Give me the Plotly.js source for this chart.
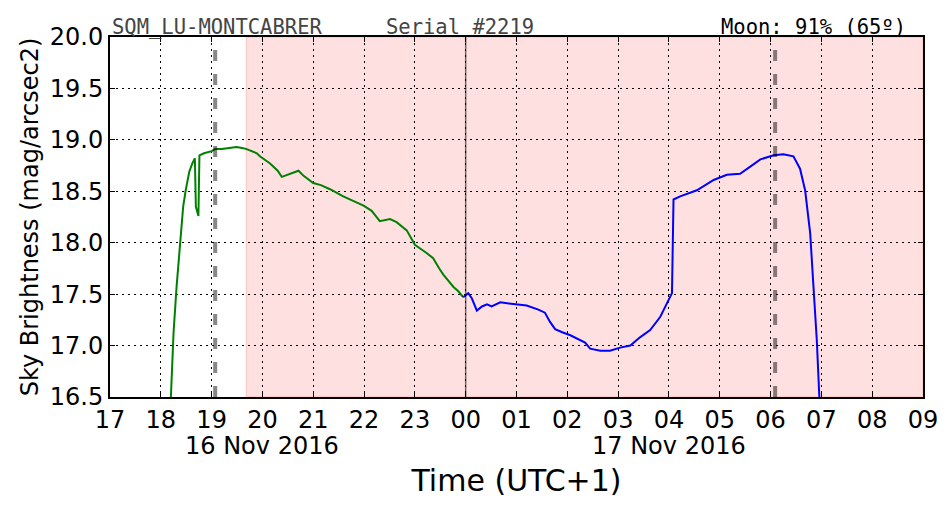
<!DOCTYPE html>
<html><head><meta charset="utf-8">
<script src="https://cdn.plot.ly/plotly-3.0.1.min.js"></script>
<style>body{margin:0;background:#fff}#c{width:952px;height:512px}</style>
</head><body><div id="c"></div>
<script>
// hours since 16 Nov 2016 00:00 (UTC+1)
var tickVals = [17,18,19,20,21,22,23,24,25,26,27,28,29,30,31,32,33];
var tickText = ["17","18","19","20","21","22","23","00","01","02","03","04","05","06","07","08","09"];

var eveningT = [18.19,18.2,18.25,18.31,18.38,18.44,18.49,18.56,18.62,18.67,18.69,18.72,18.74,18.76,18.85,19.0,19.07,19.2,19.35,19.49,19.6,19.69,19.89,19.95,20.15,20.3,20.38,20.54,20.71,20.81,21.0,21.15,21.33,21.59,21.8,21.99,22.15,22.31,22.51,22.64,22.84,23.0,23.23,23.36,23.48,23.56,23.76,23.85,23.95];
var eveningV = [16.4,16.5,17.12,17.57,18.03,18.35,18.51,18.69,18.77,18.82,18.35,18.28,18.26,18.85,18.87,18.89,18.91,18.91,18.92,18.93,18.92,18.91,18.87,18.84,18.77,18.70,18.64,18.67,18.70,18.65,18.58,18.56,18.52,18.45,18.40,18.36,18.31,18.21,18.23,18.20,18.12,17.98,17.90,17.85,17.75,17.69,17.57,17.53,17.47];

var nightT = [23.95,24.05,24.12,24.22,24.32,24.42,24.51,24.68,24.85,25.0,25.2,25.43,25.56,25.66,25.76,25.9,26.06,26.35,26.45,26.65,26.84,27.04,27.24,27.43,27.63,27.83,27.98,28.06,28.09,28.22,28.55,28.88,29.14,29.40,29.60,29.80,30.06,30.25,30.45,30.58,30.68,30.78,30.84,30.91,30.96,30.98];
var nightV = [17.47,17.51,17.46,17.34,17.38,17.40,17.38,17.42,17.41,17.40,17.39,17.35,17.32,17.23,17.16,17.13,17.10,17.03,16.97,16.95,16.95,16.98,17.00,17.08,17.15,17.28,17.44,17.51,18.42,18.45,18.51,18.61,18.66,18.67,18.74,18.81,18.85,18.86,18.84,18.72,18.51,18.09,17.61,17.05,16.5,16.4];

var twilightStart = 19.68, plotEnd = 33;
var sunsetLine = 19.07, sunriseLine = 30.09, midnight = 24;
var dateLabels = [{x:20, text:"16 Nov 2016"},{x:28, text:"17 Nov 2016"}];

var traces = [
  {x:eveningT, y:eveningV, mode:'lines', line:{color:'#008000', width:2}, hoverinfo:'skip'},
  {x:nightT, y:nightV, mode:'lines', line:{color:'#0000ff', width:2}, hoverinfo:'skip'}
];

var axBase = {showline:true, linecolor:'#000', linewidth:2, mirror:'allticks', ticks:'inside', ticklen:5, tickwidth:1, tickcolor:'#000',
  showgrid:true, gridcolor:'#000', gridwidth:1, griddash:'2px,4px', zeroline:false,
  tickfont:{family:'DejaVu Sans', size:24, color:'#000'}};

var layout = {
  width:952, height:512, margin:{l:110, r:29, t:37, b:115},
  paper_bgcolor:'#fff', plot_bgcolor:'#fff', showlegend:false,
  xaxis:Object.assign({}, axBase, {range:[17,33], tickvals:tickVals, ticktext:tickText,
    title:{text:'Time (UTC+1)', font:{family:'DejaVu Sans', size:30, color:'#000'}, standoff:37}}),
  yaxis:Object.assign({}, axBase, {range:[16.5,20.0], dtick:0.5, tick0:16.5, tickformat:'.1f',
    title:{text:'Sky Brightness (mag/arcsec2)', font:{family:'DejaVu Sans', size:24, color:'#000'}, standoff:4}}),
  shapes:[
    {type:'rect', xref:'x', yref:'paper', x0:twilightStart, x1:plotEnd, y0:0, y1:1, fillcolor:'rgba(255,0,0,0.12)', line:{color:'rgba(255,0,0,0.12)', width:1.5}, layer:'below'},
    {type:'line', xref:'x', yref:'paper', x0:sunsetLine, x1:sunsetLine, y0:0, y1:1, line:{color:'rgba(0,0,0,0.47)', width:4, dash:'11px,13px'}, layer:'above'},
    {type:'line', xref:'x', yref:'paper', x0:sunriseLine, x1:sunriseLine, y0:0, y1:1, line:{color:'rgba(0,0,0,0.47)', width:4, dash:'11px,13px'}, layer:'above'},
    {type:'line', xref:'x', yref:'paper', x0:midnight, x1:midnight, y0:0, y1:1, line:{color:'rgba(0,0,0,0.55)', width:1.5}, layer:'above'}
  ],
  annotations:[
    {xref:'paper', yref:'paper', x:0, y:1, xanchor:'left', yanchor:'bottom', yshift:-4, showarrow:false, text:'SQM_LU-MONTCABRER', font:{family:'DejaVu Sans Mono', size:20.5, color:'#444'}},
    {xref:'paper', yref:'paper', x:0.337, y:1, xanchor:'left', yanchor:'bottom', yshift:-4, showarrow:false, text:'Serial #2219', font:{family:'DejaVu Sans Mono', size:20.5, color:'#444'}},
    {xref:'paper', yref:'paper', x:0.982, y:1, xanchor:'right', yanchor:'bottom', yshift:-4, showarrow:false, text:'Moon: 91% (65º)', font:{family:'DejaVu Sans Mono', size:20.5, color:'#000'}}
  ].concat(dateLabels.map(function(d){return {xref:'x', yref:'paper', x:d.x, y:0, yanchor:'top', yshift:-33, showarrow:false, text:d.text, font:{family:'DejaVu Sans', size:24, color:'#000'}};}))
};

Plotly.newPlot('c', traces, layout, {staticPlot:true});
</script></body></html>
